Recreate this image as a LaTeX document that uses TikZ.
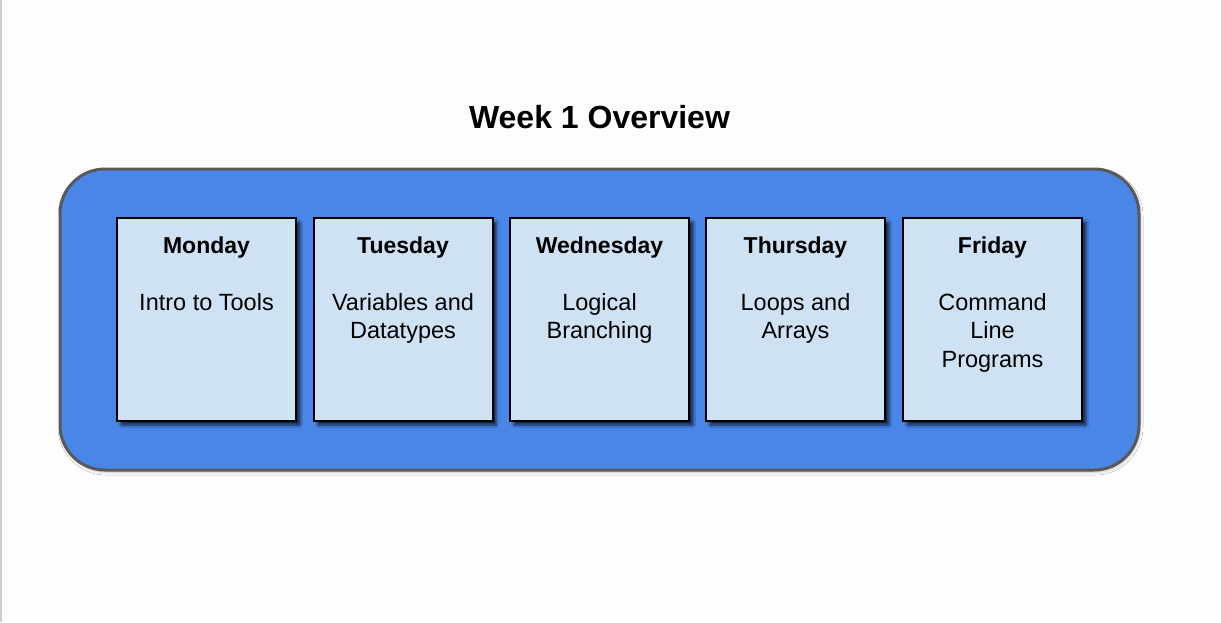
\documentclass[tikz,border=0pt]{standalone}
\usepackage{fontspec}
\setmainfont{Liberation Sans}
\usetikzlibrary{shadows.blur,calc}
\definecolor{pagebg}{HTML}{FDFDFD}
\definecolor{edgegray}{HTML}{CCCCCC}
\definecolor{panelblue}{HTML}{4A86E8}
\definecolor{panelrim}{HTML}{595959}
\definecolor{cardfill}{HTML}{CFE2F3}
\tikzset{
  panel/.style={draw=panelrim, line width=3pt, fill=panelblue, rounded corners=45pt,
    minimum width=1079pt, minimum height=301pt, inner sep=0pt,
    blur shadow={shadow xshift=1pt, shadow yshift=-2pt, shadow blur radius=3pt, shadow opacity=25}},
  card/.style={draw=black, line width=2pt, fill=cardfill,
    minimum width=179pt, minimum height=203pt, inner sep=0pt,
    blur shadow={shadow xshift=4pt, shadow yshift=-4pt, shadow blur radius=2.5pt, shadow opacity=70}},
  dayname/.style={anchor=base, inner sep=0pt, font=\fontsize{23}{28}\selectfont\bfseries},
  topic/.style={anchor=north, inner sep=0pt, align=center, font=\fontsize{23.5}{28.5}\selectfont},
  heading/.style={anchor=base, inner sep=0pt, font=\fontsize{32}{38}\selectfont\bfseries}
}
\begin{document}
\begin{tikzpicture}[x=1pt,y=-1pt]
  % page and its left rule
  \fill[pagebg] (0,0) rectangle (1221,622);
  \useasboundingbox (0,0) rectangle (1221,622);
  \draw[edgegray, line width=1.5pt] (0.75,0) -- (0.75,622);

  % title
  \node[heading] (title) at (599.5,128.5) {Week 1 Overview};

  % container
  \node[panel] (week) at (599.5,319.5) {};

  % day cards
  \foreach \name/\x/\day/\what in {
      mon/206.5/Monday/Intro to Tools,
      tue/403/Tuesday/{Variables and\\Datatypes},
      wed/599.5/Wednesday/{Logical\\Branching},
      thu/795.5/Thursday/{Loops and\\Arrays},
      fri/992.5/Friday/{Command\\Line\\Programs}} {
    \node[card] (\name) at (\x,319.5) {};
    \node[dayname] (\name-day) at ($(\name.north)+(0,36)$) {\day};
    \node[topic] (\name-topic) at ($(\name.north)+(0,76)$) {\what};
  }
\end{tikzpicture}
\end{document}
